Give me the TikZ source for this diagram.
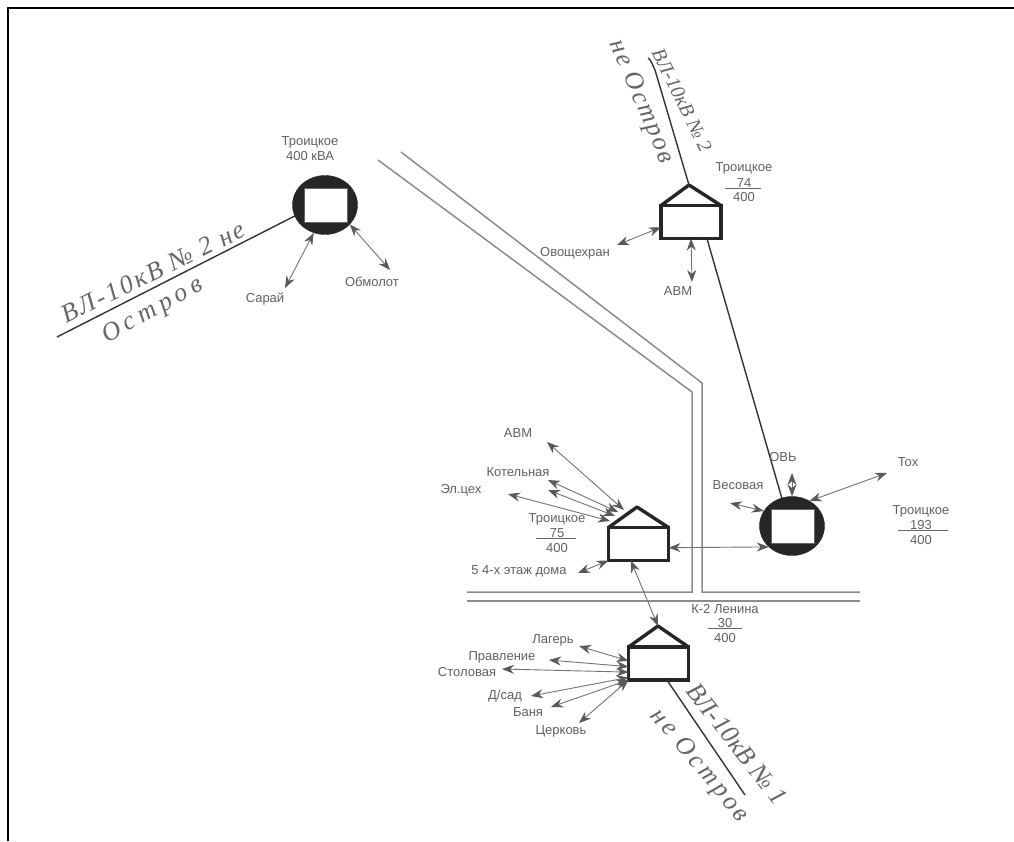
\documentclass[tikz,border=0pt]{standalone}
\usepackage{fontspec}
\setmainfont{Liberation Sans}
\newfontfamily\handfont{Liberation Serif}
\usetikzlibrary{arrows.meta,shapes.geometric}

\tikzset{
    link/.style={draw=black!55, line width=0.9pt, {Stealth[length=12pt,width=9pt,color=black!65]}-{Stealth[length=12pt,width=9pt,color=black!65]}},
    feeder/.style={draw=black!80, line width=1.4pt},
    road/.style={draw=black!45, line width=1.5pt},
    house/.style={draw=black!85, line width=3.4pt, fill=white, minimum width=60pt, minimum height=33pt, inner sep=0pt, outer sep=0pt},
    roof/.style={draw=black!85, line width=3.4pt, line join=round},
    hall/.style={draw=black!85, fill=black!85, ellipse, minimum width=65pt, minimum height=59pt, inner sep=0pt},
    hbox/.style={draw=black!60, line width=0.8pt, fill=white, minimum width=43pt, minimum height=34pt, inner sep=0pt, outer sep=0pt},
    lbl/.style={text=black!62, font=\fontsize{13}{14}\selectfont, inner sep=0pt},
    frac/.style={draw=black!60, line width=0.9pt},
    hand/.style={text=black!60, font=\handfont\itshape\fontsize{26}{26}\selectfont, inner sep=0pt},
}

\begin{document}
\begin{tikzpicture}[x=1pt,y=-1pt]
\useasboundingbox (0,0) rectangle (1014,841);
\node[fill=white, minimum width=1014pt, minimum height=841pt, inner sep=0pt] (page) at (507,420.5) {};

% frame
\coordinate (fr1) at (8,841);
\coordinate (fr2) at (8,8);
\coordinate (fr3) at (1014,8);
\draw[black, line width=2.2pt] (fr1) -- (fr2) -- (fr3);

% road
\coordinate (rd1) at (378,160);
\coordinate (rd2) at (692,392);
\coordinate (rd3) at (692,592);
\coordinate (rd4) at (467,592);
\coordinate (rd5) at (401,152);
\coordinate (rd6) at (702,383);
\coordinate (rd7) at (702,592);
\coordinate (rd8) at (860,592);
\coordinate (rd9) at (467,601);
\coordinate (rd10) at (860,601);
\draw[road] (rd1) -- (rd2) -- (rd3) -- (rd4);
\draw[road] (rd5) -- (rd6) -- (rd7) -- (rd8);
\draw[road] (rd9) -- (rd10);

% substations
\node[hall] (kA) at (325,205) {};
\node[hbox] (bA) at (325.5,205.5) {};
\node[hall] (k193) at (792,526) {};
\node[hbox] (b193) at (792.5,526) {};

\node[house] (h74) at (691,222) {};
\coordinate (r74) at (689,185);
\draw[roof] (h74.north west) -- (r74) -- (h74.north east);
\node[house] (h75) at (638.5,544) {};
\coordinate (r75) at (637,507);
\draw[roof] (h75.north west) -- (r75) -- (h75.north east);
\node[house] (h30) at (658.5,663.5) {};
\coordinate (r30) at (658,626);
\draw[roof] (h30.north west) -- (r30) -- (h30.north east);

% feeders
\coordinate (fA) at (57,337);
\coordinate (f74) at (648,58);
\coordinate (f74b) at (655,70);
\coordinate (f30) at (745,795);
\draw[feeder] (fA) -- (kA.200);
\draw[feeder] (r74) -- (f74b) .. controls (652,64) and (651,60) .. (f74);
\draw[feeder] (h74.-46) -- (k193.110);
\draw[feeder] (h30.-63) -- (f30);

% links
\coordinate (eSar) at (285,288);
\coordinate (eObm) at (390,270);
\draw[link] (kA.-112) -- (eSar);
\draw[link] (kA.-38) -- (eObm);

\coordinate (eOvo) at (617,245);
\coordinate (eAvm) at (692,282);
\draw[link] (h74.190) -- (eOvo);
\draw[link] (h74.south) -- (eAvm);

\coordinate (sAvm) at (624,510);
\coordinate (eAvmb) at (547,442);
\coordinate (sKot) at (618,512);
\coordinate (eKot) at (548,480);
\coordinate (sKotb) at (615,516);
\coordinate (eKotb) at (548,490);
\coordinate (sZeh) at (610,521);
\coordinate (eZeh) at (508,494);
\coordinate (eDom) at (578,573);
\draw[link] (sAvm) -- (eAvmb);
\draw[link] (sKot) -- (eKot);
\draw[link] (sKotb) -- (eKotb);
\draw[link] (sZeh) -- (eZeh);
\draw[link] (h75.south west) -- (eDom);
\draw[link] (h75.-7) -- (k193.222);
\draw[link] (h75.-115) -- (r30);

\coordinate (eTok) at (887,473);
\coordinate (eOvb) at (792,473);
\coordinate (eVes) at (730,503);
\draw[link] (k193.55) -- (eTok);
\draw[link] (k193.north) -- (eOvb);
\draw[link] (k193.152) -- (eVes);

\coordinate (eLag) at (579,646);
\coordinate (ePra) at (549,660);
\coordinate (eSto) at (502,669);
\coordinate (eSad) at (531,696);
\coordinate (eBan) at (551,707);
\coordinate (eCer) at (579,723);
\draw[link] (h30.175) -- (eLag);
\draw[link] (h30.186) -- (ePra);
\draw[link] (h30.196) -- (eSto);
\draw[link] (h30.205) -- (eSad);
\draw[link] (h30.south west) -- (eBan);
\draw[link] (h30.south west) -- (eCer);

% labels
\node[lbl] (tA) at (310,142) {Троицкое};
\node[lbl] (tAb) at (310,156) {400 кВА};
\node[lbl] (sar) at (265,299) {Сарай};
\node[lbl] (obm) at (372,282) {Обмолот};
\node[lbl] (ovo) at (575,253) {Овощехран};
\node[lbl] (avm) at (678,291) {АВМ};
\node[lbl] (t74) at (744,168) {Троицкое};
\node[lbl] (t74a) at (744,183) {74};
\node[lbl] (t74b) at (744,197) {400};
\draw[frac] (t74a.south west) ++(-12,1) -- ++(36,0);

\node[lbl] (avmb) at (518,433) {АВМ};
\node[lbl] (kot) at (518,472) {Котельная};
\node[lbl] (zeh) at (461,490) {Эл.цех};
\node[lbl] (t75) at (557,519) {Троицкое};
\node[lbl] (t75a) at (557,533) {75};
\node[lbl] (t75b) at (557,548) {400};
\draw[frac] (t75a.south west) ++(-14,1) -- ++(40,0);
\node[lbl] (dom) at (519,571) {5 4-х этаж дома};

\node[lbl] (ves) at (738,485) {Весовая};
\node[lbl] (ovb) at (783,457) {ОВЬ};
\node[lbl] (tok) at (908,462) {Тох};
\node[lbl] (t193) at (921,511) {Троицкое};
\node[lbl] (t193a) at (921,525) {193};
\node[lbl] (t193b) at (921,540) {400};
\draw[frac] (t193a.south west) ++(-12,1) -- ++(50,0);

\node[lbl] (k2) at (725,609) {К-2 Ленина};
\node[lbl] (k2a) at (725,623) {30};
\node[lbl] (k2b) at (725,638) {400};
\draw[frac] (k2a.south west) ++(-10,1) -- ++(34,0);

\node[lbl] (lag) at (553,640) {Лагерь};
\node[lbl] (pra) at (502,657) {Правление};
\node[lbl] (sto) at (467,672) {Столовая};
\node[lbl] (sad) at (505,696) {Д/сад};
\node[lbl] (ban) at (528,712) {Баня};
\node[lbl] (cer) at (561,731) {Церковь};

% handwriting
\node[hand, rotate=26] (wA) at (153,272) {\addfontfeature{LetterSpace=9}ВЛ-10кВ № 2 не};
\node[hand, rotate=29] (wAb) at (153,311) {\addfontfeature{LetterSpace=19}Остров};
\node[hand, rotate=-64] (w74) at (682,100) {\fontsize{20}{20}\selectfont ВЛ-10кВ № 2};
\node[hand, rotate=-67] (w74b) at (641,102) {\addfontfeature{LetterSpace=8}не Остров};
\node[hand, rotate=-52] (w30) at (737,744) {ВЛ-10кВ № 1};
\node[hand, rotate=-50] (w30b) at (699,766) {\addfontfeature{LetterSpace=12}не Остров};
\end{tikzpicture}
\end{document}
